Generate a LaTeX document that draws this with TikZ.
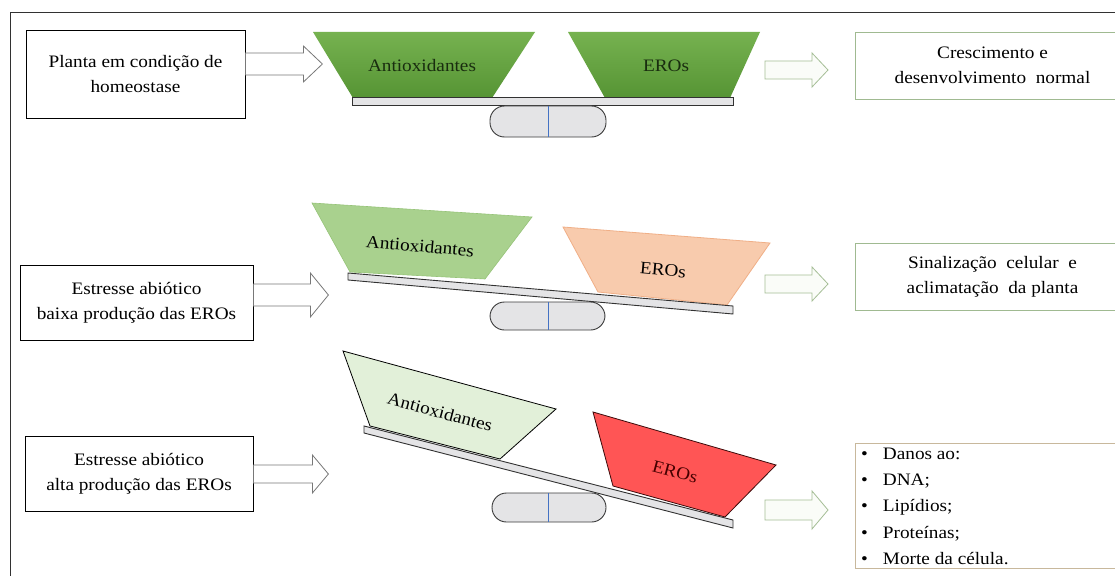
\documentclass[tikz,border=0pt]{standalone}
\usepackage{fontspec}
\setmainfont[FakeStretch=1.1]{Liberation Serif}
\usetikzlibrary{calc}
\definecolor{gtop}{RGB}{118,178,80}
\definecolor{gbot}{RGB}{86,148,52}
\definecolor{lgreen}{RGB}{169,209,142}
\definecolor{lgreenb}{RGB}{150,195,120}
\definecolor{peach}{RGB}{248,203,173}
\definecolor{peachb}{RGB}{240,175,135}
\definecolor{vlgreen}{RGB}{226,240,217}
\definecolor{rred}{RGB}{255,85,85}
\definecolor{rredb}{RGB}{60,10,10}
\definecolor{beamfill}{RGB}{228,228,230}
\definecolor{pillfill}{RGB}{228,228,230}
\definecolor{divblue}{RGB}{68,114,196}
\definecolor{outgreen}{RGB}{160,186,145}
\definecolor{outtan}{RGB}{200,184,156}
\definecolor{arrgray}{RGB}{120,120,120}
\definecolor{arrgreen}{RGB}{165,190,150}
\definecolor{arrfill}{RGB}{250,252,248}
\definecolor{darkline}{RGB}{50,50,50}
\definecolor{pillline}{RGB}{60,60,60}
\definecolor{dgtext}{RGB}{25,45,15}
\definecolor{drtext}{RGB}{70,0,0}
\newcommand{\barrow}[6]{%
  \draw[#1,shift={#2}] (0,-#4) -- ({#3-#6},-#4) -- ({#3-#6},-#5) -- (#3,0) -- ({#3-#6},#5) -- ({#3-#6},#4) -- (0,#4) -- cycle;}
\tikzset{
  txt/.style={font=\fontsize{17.5}{25}\selectfont, align=center, inner sep=0pt},
  inbox/.style={draw=black, line width=0.8pt, fill=white, txt},
  outbox/.style={draw=outgreen, line width=0.9pt, fill=white, txt},
  beam/.style={draw=darkline, line width=0.9pt, fill=beamfill},
  pill/.style={draw=pillline, line width=0.9pt, fill=pillfill, rounded corners=14.5pt},
  larrow/.style={draw=arrgray, line width=0.8pt, fill=white},
  rarrow/.style={draw=arrgreen, line width=0.8pt, fill=arrfill},
  item/.style={font=\fontsize{17.5}{25}\selectfont, inner sep=0pt, anchor=base west},
}
\begin{document}
\begin{tikzpicture}[x=1pt,y=-1pt]
\useasboundingbox (0,0) rectangle (1115,575);
\clip (0,0) rectangle (1115,575);
\fill[white] (0,0) rectangle (1115,575);
% frame
\draw[line width=1pt,darkline] (10,580) -- (10,13) -- (1120,13);

% ---------- row 1 ----------
\node[inbox, minimum width=219pt, minimum height=88pt] (b1) at (135.5,74.5) {Planta em\ condição de\\homeostase};
\coordinate (la1) at (b1.east |- 0,64);
\barrow{larrow}{(la1)}{77}{11}{18}{19}
\shade[top color=gtop, bottom color=gbot] (313,32) -- (535,32) -- (492,98) -- (353,98) -- cycle;
\shade[top color=gtop, bottom color=gbot] (568,32) -- (760,32) -- (730,98) -- (605,98) -- cycle;
\node[txt, text=dgtext] (ao1) at (422,66) {Antioxidantes};
\node[txt, text=dgtext] (er1) at (666,66) {EROs};
\draw[beam] (352,97) rectangle (733,105);
\draw[pill] (490,106) rectangle (606,137);
\draw[divblue, line width=0.8pt] (548,106) -- (548,137);
\node[outbox, minimum width=275pt, minimum height=67pt] (r1) at (992.5,65.5) {Crescimento e\\desenvolvimento\ \ normal};
\coordinate (ra1) at (765,70);
\barrow{rarrow}{(ra1)}{63}{9}{17}{16}

% ---------- row 2 ----------
\node[inbox, minimum width=233pt, minimum height=75pt] (b2) at (136.5,302.5) {Estresse abiótico\\baixa\ produção das EROs};
\coordinate (la2) at (b2.east |- 0,295);
\barrow{larrow}{(la2)}{75}{11}{22}{18}
\filldraw[fill=lgreen, draw=lgreenb, line width=0.6pt] (312,203) -- (532,217) -- (485,279) -- (350,272) -- cycle;
\filldraw[fill=peach, draw=peachb, line width=0.8pt] (563,227) -- (770,243) -- (727,305) -- (598,292) -- cycle;
\node[txt, rotate=-5] (ao2) at (420,246) {Antioxidantes};
\node[txt, rotate=-5] (er2) at (663,270) {EROs};
\draw[beam] (348,273) -- (733,306) -- (733,314) -- (348,280) -- cycle;
\draw[pill] (490,302) rectangle (605,330);
\draw[divblue, line width=0.8pt] (548,302) -- (548,330);
\node[outbox, minimum width=275pt, minimum height=67pt] (r2) at (992.5,276.5) {Sinalização\ \ celular\ \ e\\aclimatação\ \ da planta};
\coordinate (ra2) at (765,284);
\barrow{rarrow}{(ra2)}{63}{9}{17}{16}

% ---------- row 3 ----------
\node[inbox, minimum width=228pt, minimum height=75pt] (b3) at (139,473.5) {Estresse abiótico\\alta\ produção das EROs};
\coordinate (la3) at (b3.east |- 0,474);
\barrow{larrow}{(la3)}{75}{9}{19}{16}
\filldraw[fill=vlgreen, draw=black, line width=0.8pt] (343,351) -- (556,409) -- (500,459) -- (370,426) -- cycle;
\filldraw[fill=rred, draw=rredb, line width=0.8pt] (593,412) -- (776,465) -- (725,517) -- (613,486) -- cycle;
\node[txt, rotate=-15] (ao3) at (440,412) {Antioxidantes};
\node[txt, rotate=-15, text=drtext] (er3) at (675,472) {EROs};
\draw[beam] (364,426) -- (733,520) -- (733,528) -- (364,433) -- cycle;
\draw[pill] (492,493) rectangle (606,522);
\draw[divblue, line width=0.8pt] (548,493) -- (548,522);
\node[outbox, draw=outtan, minimum width=275pt, minimum height=125pt] (r3) at (992.5,505.5) {};
\node[item] (l1) at (861,459) {\textbullet\hspace{15pt}Danos ao:};
\node[item] (l2) at (861,485) {\textbullet\hspace{15pt}DNA;};
\node[item] (l3) at (861,511.5) {\textbullet\hspace{15pt}Lipídios;};
\node[item] (l4) at (861,538) {\textbullet\hspace{15pt}Proteínas;};
\node[item] (l5) at (861,564) {\textbullet\hspace{15pt}Morte da célula.};
\coordinate (ra3) at (765,510);
\barrow{rarrow}{(ra3)}{63}{10}{19}{16}
\end{tikzpicture}
\end{document}
